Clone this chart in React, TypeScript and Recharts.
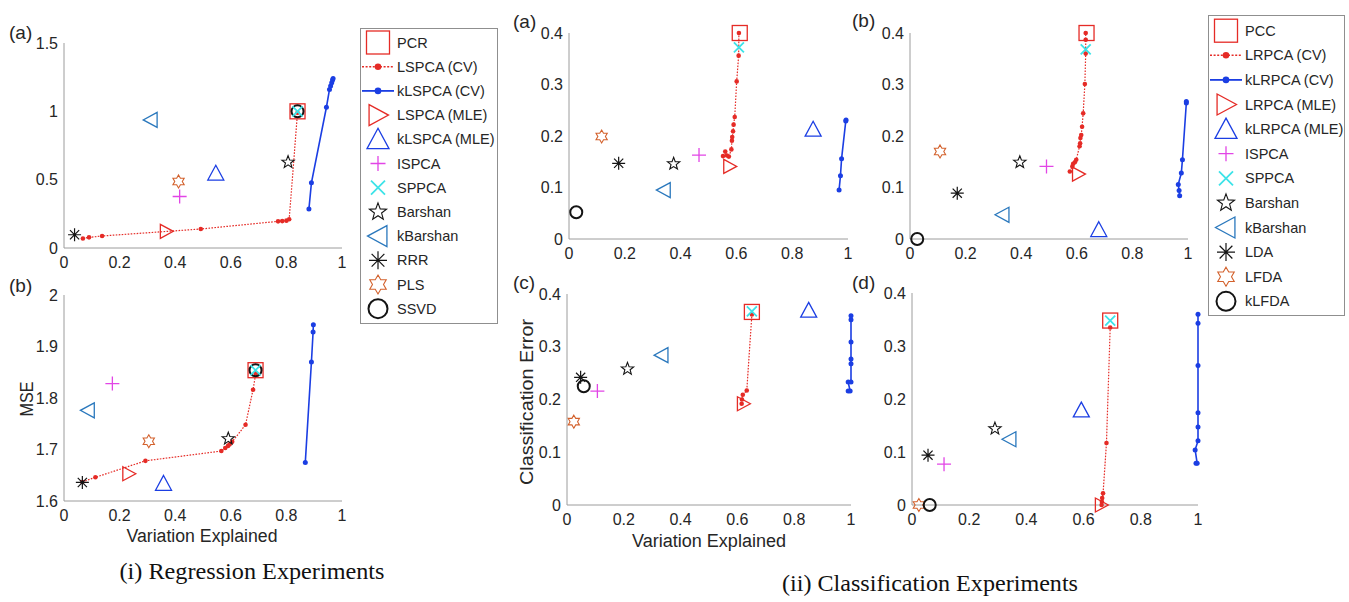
import React from "react";
import { ScatterChart, Scatter, XAxis, YAxis } from "recharts";

const RED = "#e52b26";
const BLUE = "#1b3ee3";
const MAGENTA = "#e245e6";
const CYAN = "#3de3e8";
const STEEL = "#2a78bd";
const ORANGE = "#d3612c";
const INK = "#141414";
const AXIS = "#9c9c9c";
const TEXT = "#262626";
const SANS = "'Liberation Sans', Arial, Helvetica, sans-serif";
const SERIF = "'Liberation Serif', 'Times New Roman', serif";

type P = { x: number; y: number };
type Mark = [string, number, number];

// ---- (i) Regression, panel (a)
const regA_cv: P[] = [
  { x: 0.068, y: 0.07 }, { x: 0.09, y: 0.078 }, { x: 0.137, y: 0.088 }, { x: 0.492, y: 0.139 },
  { x: 0.77, y: 0.195 }, { x: 0.785, y: 0.197 }, { x: 0.8, y: 0.2 }, { x: 0.81, y: 0.21 }, { x: 0.84, y: 0.99 },
];
const regA_kcv: P[] = [
  { x: 0.881, y: 0.285 }, { x: 0.89, y: 0.477 }, { x: 0.944, y: 1.03 }, { x: 0.955, y: 1.16 },
  { x: 0.959, y: 1.185 }, { x: 0.963, y: 1.21 }, { x: 0.966, y: 1.23 }, { x: 0.968, y: 1.24 },
];
const regA_marks: Mark[] = [
  ["sq", 0.84, 1.0], ["rtri", 0.368, 0.122], ["utri", 0.546, 0.547], ["plus", 0.416, 0.377],
  ["cross", 0.84, 1.0], ["star", 0.806, 0.628], ["ltri", 0.312, 0.937], ["ast", 0.038, 0.097],
  ["hex", 0.412, 0.487], ["circ", 0.84, 1.0],
];

// ---- (i) Regression, panel (b)
const regB_cv: P[] = [
  { x: 0.066, y: 1.637 }, { x: 0.113, y: 1.646 }, { x: 0.293, y: 1.678 }, { x: 0.566, y: 1.697 },
  { x: 0.58, y: 1.703 }, { x: 0.59, y: 1.707 }, { x: 0.596, y: 1.71 }, { x: 0.605, y: 1.715 },
  { x: 0.653, y: 1.748 }, { x: 0.68, y: 1.816 }, { x: 0.69, y: 1.848 },
];
const regB_kcv: P[] = [
  { x: 0.868, y: 1.675 }, { x: 0.89, y: 1.87 }, { x: 0.896, y: 1.928 }, { x: 0.897, y: 1.942 },
];
const regB_marks: Mark[] = [
  ["sq", 0.689, 1.854], ["rtri", 0.233, 1.653], ["utri", 0.358, 1.634], ["plus", 0.174, 1.828],
  ["cross", 0.689, 1.854], ["star", 0.591, 1.721], ["ltri", 0.086, 1.776], ["ast", 0.066, 1.636],
  ["hex", 0.305, 1.716], ["circ", 0.689, 1.854],
];

// ---- (ii) Classification, panel (a)
const clsA_cv: P[] = [
  { x: 0.552, y: 0.161 }, { x: 0.56, y: 0.17 }, { x: 0.566, y: 0.162 }, { x: 0.573, y: 0.16 },
  { x: 0.582, y: 0.174 }, { x: 0.584, y: 0.191 }, { x: 0.585, y: 0.198 }, { x: 0.588, y: 0.209 },
  { x: 0.59, y: 0.222 }, { x: 0.594, y: 0.237 }, { x: 0.601, y: 0.306 }, { x: 0.608, y: 0.356 },
  { x: 0.609, y: 0.4 },
];
const clsA_kcv: P[] = [
  { x: 0.968, y: 0.095 }, { x: 0.973, y: 0.123 }, { x: 0.977, y: 0.156 }, { x: 0.992, y: 0.229 }, { x: 0.993, y: 0.231 },
];
const clsA_marks: Mark[] = [
  ["sq", 0.612, 0.4], ["rtri", 0.576, 0.141], ["utri", 0.875, 0.213], ["plus", 0.466, 0.163],
  ["cross", 0.609, 0.372], ["star", 0.375, 0.146], ["ltri", 0.34, 0.095], ["ast", 0.178, 0.147],
  ["hex", 0.117, 0.199], ["circ", 0.026, 0.052],
];

// ---- (ii) Classification, panel (b)
const clsB_cv: P[] = [
  { x: 0.575, y: 0.131 }, { x: 0.584, y: 0.141 }, { x: 0.587, y: 0.146 }, { x: 0.593, y: 0.149 },
  { x: 0.598, y: 0.154 }, { x: 0.61, y: 0.18 }, { x: 0.612, y: 0.186 }, { x: 0.613, y: 0.196 },
  { x: 0.616, y: 0.202 }, { x: 0.619, y: 0.218 }, { x: 0.623, y: 0.244 }, { x: 0.629, y: 0.301 },
  { x: 0.632, y: 0.36 }, { x: 0.632, y: 0.387 }, { x: 0.632, y: 0.4 },
];
const clsB_kcv: P[] = [
  { x: 0.97, y: 0.084 }, { x: 0.968, y: 0.094 }, { x: 0.965, y: 0.106 }, { x: 0.976, y: 0.128 },
  { x: 0.98, y: 0.154 }, { x: 0.994, y: 0.264 }, { x: 0.994, y: 0.267 },
];
const clsB_marks: Mark[] = [
  ["sq", 0.635, 0.4], ["rtri", 0.606, 0.126], ["utri", 0.679, 0.018], ["plus", 0.491, 0.141],
  ["cross", 0.632, 0.368], ["star", 0.395, 0.149], ["ltri", 0.333, 0.047], ["ast", 0.17, 0.089],
  ["hex", 0.108, 0.17], ["circ", 0.026, 0.0],
];

// ---- (ii) Classification, panel (c)
const clsC_cv: P[] = [
  { x: 0.615, y: 0.192 }, { x: 0.616, y: 0.2 }, { x: 0.619, y: 0.209 }, { x: 0.633, y: 0.217 }, { x: 0.651, y: 0.361 },
];
const clsC_kcv: P[] = [
  { x: 0.99, y: 0.216 }, { x: 0.997, y: 0.216 }, { x: 0.99, y: 0.233 }, { x: 1.0, y: 0.233 },
  { x: 1.0, y: 0.268 }, { x: 1.0, y: 0.277 }, { x: 1.0, y: 0.309 }, { x: 1.0, y: 0.351 }, { x: 1.0, y: 0.359 },
];
const clsC_marks: Mark[] = [
  ["sq", 0.651, 0.366], ["rtri", 0.621, 0.192], ["utri", 0.851, 0.369], ["plus", 0.107, 0.216],
  ["cross", 0.651, 0.367], ["star", 0.213, 0.258], ["ltri", 0.333, 0.284], ["ast", 0.048, 0.242],
  ["hex", 0.024, 0.158], ["circ", 0.059, 0.225],
];

// ---- (ii) Classification, panel (d)
const clsD_cv: P[] = [
  { x: 0.663, y: 0.0 }, { x: 0.664, y: 0.006 }, { x: 0.665, y: 0.013 }, { x: 0.668, y: 0.022 },
  { x: 0.68, y: 0.117 }, { x: 0.693, y: 0.335 },
];
const clsD_kcv: P[] = [
  { x: 0.993, y: 0.079 }, { x: 0.997, y: 0.079 }, { x: 0.99, y: 0.104 }, { x: 1.0, y: 0.121 },
  { x: 1.0, y: 0.147 }, { x: 1.0, y: 0.174 }, { x: 1.0, y: 0.263 }, { x: 1.0, y: 0.343 }, { x: 1.0, y: 0.36 },
];
const clsD_marks: Mark[] = [
  ["sq", 0.693, 0.348], ["rtri", 0.662, 0.0], ["utri", 0.592, 0.179], ["plus", 0.112, 0.077],
  ["cross", 0.693, 0.348], ["star", 0.29, 0.144], ["ltri", 0.341, 0.124], ["ast", 0.056, 0.094],
  ["hex", 0.024, 0.0], ["circ", 0.062, 0.0],
];

const xTicks = [0, 0.2, 0.4, 0.6, 0.8, 1];
const regATicks = [0, 0.5, 1, 1.5];
const regBTicks = [1.6, 1.7, 1.8, 1.9, 2];
const clsTicks = [0, 0.1, 0.2, 0.3, 0.4];

const regLabels = ["PCR", "LSPCA (CV)", "kLSPCA (CV)", "LSPCA (MLE)", "kLSPCA (MLE)", "ISPCA", "SPPCA", "Barshan", "kBarshan", "RRR", "PLS", "SSVD"];
const clsLabels = ["PCC", "LRPCA (CV)", "kLRPCA (CV)", "LRPCA (MLE)", "kLRPCA (MLE)", "ISPCA", "SPPCA", "Barshan", "kBarshan", "LDA", "LFDA", "kLFDA"];
const legendKeys = ["sq", "cv", "kcv", "rtri", "utri", "plus", "cross", "star", "ltri", "ast", "hex", "circ"];

// draw order for single markers (cyan cross on top, as in the figure)
const markOrder = ["sq", "rtri", "utri", "plus", "star", "ltri", "ast", "hex", "circ", "cross"];

const plotSize: Record<string, number> = {
  sq: 7.5, rtri: 7, utri: 8, plus: 7, cross: 5, star: 6.5, ltri: 7.5, ast: 6.5, hex: 6.5, circ: 6,
};
const legendSize: Record<string, number> = {
  sq: 11.5, rtri: 10.5, utri: 11, plus: 7.5, cross: 7, star: 9, ltri: 10.5, ast: 9, hex: 9.5, circ: 9.5,
};

function starPts(cx: number, cy: number, n: number, ro: number, ri: number) {
  const pts: string[] = [];
  for (let i = 0; i < 2 * n; i++) {
    const r = i % 2 === 0 ? ro : ri;
    const a = -Math.PI / 2 + (i * Math.PI) / n;
    pts.push(`${cx + r * Math.cos(a)},${cy + r * Math.sin(a)}`);
  }
  return pts.join(" ");
}

function marker(kind: string, cx: number, cy: number, h: number) {
  switch (kind) {
    case "sq":
      return <rect x={cx - h} y={cy - h} width={2 * h} height={2 * h} fill="none" stroke={RED} strokeWidth={1.3} />;
    case "rtri":
      return <polygon points={`${cx - h * 0.85},${cy - h} ${cx + h},${cy} ${cx - h * 0.85},${cy + h}`} fill="none" stroke={RED} strokeWidth={1.3} />;
    case "ltri":
      return <polygon points={`${cx + h * 0.85},${cy - h} ${cx - h},${cy} ${cx + h * 0.85},${cy + h}`} fill="none" stroke={STEEL} strokeWidth={1.3} />;
    case "utri":
      return <polygon points={`${cx},${cy - h} ${cx + h},${cy + h * 0.85} ${cx - h},${cy + h * 0.85}`} fill="none" stroke={BLUE} strokeWidth={1.3} />;
    case "plus":
      return <path d={`M${cx - h},${cy}H${cx + h}M${cx},${cy - h}V${cy + h}`} stroke={MAGENTA} strokeWidth={1.3} />;
    case "cross":
      return <path d={`M${cx - h},${cy - h}L${cx + h},${cy + h}M${cx - h},${cy + h}L${cx + h},${cy - h}`} stroke={CYAN} strokeWidth={1.8} />;
    case "star":
      return <polygon points={starPts(cx, cy, 5, h, h * 0.42)} fill="none" stroke={INK} strokeWidth={1.1} />;
    case "hex":
      return <polygon points={starPts(cx, cy, 6, h, h * 0.58)} fill="none" stroke={ORANGE} strokeWidth={1.1} />;
    case "ast": {
      const d = h * 0.7071;
      return (
        <path
          d={`M${cx - h},${cy}H${cx + h}M${cx},${cy - h}V${cy + h}M${cx - d},${cy - d}L${cx + d},${cy + d}M${cx - d},${cy + d}L${cx + d},${cy - d}`}
          stroke={INK}
          strokeWidth={1.2}
        />
      );
    }
    case "circ":
      return <circle cx={cx} cy={cy} r={h} fill="none" stroke={INK} strokeWidth={2} />;
    default:
      return <g />;
  }
}

type PanelProps = {
  box: [number, number, number, number];
  yDomain: [number, number];
  yTicks: number[];
  cv: P[];
  kcv: P[];
  marks: Mark[];
};

function Panel({ box, yDomain, yTicks, cv, kcv, marks }: PanelProps) {
  const [x0, yTop, x1, yBot] = box;
  const W = x1 - x0 + 60;
  const H = yBot - yTop + 40;
  const tick = { fill: TEXT, fontSize: 16, fontFamily: SANS };
  return (
    <div style={{ position: "absolute", left: x0 - 50, top: yTop - 10 }}>
      <ScatterChart width={W} height={H} margin={{ top: 10, right: 10, bottom: 0, left: 0 }}>
        <XAxis type="number" dataKey="x" domain={[0, 1]} ticks={xTicks} interval={0} height={30}
          tickLine={false} tickSize={0} tickMargin={9} stroke={AXIS} tick={tick} />
        <YAxis type="number" dataKey="y" domain={yDomain} ticks={yTicks} interval={0} width={50}
          tickLine={false} tickSize={0} tickMargin={6} stroke={AXIS} tick={tick} />
        <Scatter data={cv} isAnimationActive={false}
          line={{ stroke: RED, strokeWidth: 1.2, strokeDasharray: "1.6 1.4" }}
          shape={(p: any) => <circle cx={p.cx} cy={p.cy} r={2.3} fill={RED} />} />
        <Scatter data={kcv} isAnimationActive={false}
          line={{ stroke: BLUE, strokeWidth: 1.6 }}
          shape={(p: any) => <circle cx={p.cx} cy={p.cy} r={2.5} fill={BLUE} />} />
        {markOrder.map((k) => (
          <Scatter key={k} isAnimationActive={false}
            data={marks.filter((m) => m[0] === k).map((m) => ({ x: m[1], y: m[2] }))}
            shape={(p: any) => marker(k, p.cx, p.cy, plotSize[k])} />
        ))}
      </ScatterChart>
    </div>
  );
}

function LegendBox({ x, y, w, h, first, step, labels }: { x: number; y: number; w: number; h: number; first: number; step: number; labels: string[] }) {
  return (
    <g transform={`translate(${x},${y})`}>
      <rect x={0.5} y={0.5} width={w} height={h} fill="#fff" stroke="#8f8f8f" strokeWidth={1} />
      {legendKeys.map((k, i) => {
        const cy = first + i * step;
        const mx = 18;
        let sym;
        if (k === "cv") {
          sym = (
            <g>
              <line x1={2} x2={34} y1={cy} y2={cy} stroke={RED} strokeWidth={1.4} strokeDasharray="2 1.6" />
              <circle cx={mx} cy={cy} r={3.3} fill={RED} />
            </g>
          );
        } else if (k === "kcv") {
          sym = (
            <g>
              <line x1={2} x2={34} y1={cy} y2={cy} stroke={BLUE} strokeWidth={1.8} />
              <circle cx={mx} cy={cy} r={3.3} fill={BLUE} />
            </g>
          );
        } else {
          sym = marker(k, mx, cy, legendSize[k]);
        }
        return (
          <g key={k}>
            {sym}
            <text x={37} y={cy + 5} fontSize={14.5} fontFamily={SANS} fill={TEXT}>{labels[i]}</text>
          </g>
        );
      })}
    </g>
  );
}

export default function App() {
  return (
    <div style={{ position: "absolute", left: 0, top: 0, width: 1349, height: 602, background: "#fff", overflow: "hidden" }}>
      <Panel box={[64, 43, 342, 248]} yDomain={[0, 1.5]} yTicks={regATicks} cv={regA_cv} kcv={regA_kcv} marks={regA_marks} />
      <Panel box={[64, 295, 342, 501]} yDomain={[1.6, 2]} yTicks={regBTicks} cv={regB_cv} kcv={regB_kcv} marks={regB_marks} />
      <Panel box={[569, 33, 848, 239]} yDomain={[0, 0.4]} yTicks={clsTicks} cv={clsA_cv} kcv={clsA_kcv} marks={clsA_marks} />
      <Panel box={[910, 33, 1188, 239]} yDomain={[0, 0.4]} yTicks={clsTicks} cv={clsB_cv} kcv={clsB_kcv} marks={clsB_marks} />
      <Panel box={[567, 294, 851, 505]} yDomain={[0, 0.4]} yTicks={clsTicks} cv={clsC_cv} kcv={clsC_kcv} marks={clsC_marks} />
      <Panel box={[912, 293, 1198, 505]} yDomain={[0, 0.4]} yTicks={clsTicks} cv={clsD_cv} kcv={clsD_kcv} marks={clsD_marks} />

      <svg width={1349} height={602} style={{ position: "absolute", left: 0, top: 0, pointerEvents: "none" }}>
        <g fontFamily={SANS} fill={TEXT} fontSize={19}>
          <text x={9} y={39}>(a)</text>
          <text x={9} y={292}>(b)</text>
          <text x={513} y={28}>(a)</text>
          <text x={513} y={289}>(c)</text>
          <text x={852} y={27}>(b)</text>
          <text x={852} y={289}>(d)</text>
        </g>
        <g fontFamily={SANS} fill={TEXT} textAnchor="middle">
          <text x={202} y={542} fontSize={18} textLength={151} lengthAdjust="spacingAndGlyphs">Variation Explained</text>
          <text x={709} y={547} fontSize={18} textLength={154} lengthAdjust="spacingAndGlyphs">Variation Explained</text>
          <text transform="translate(33,399) rotate(-90)" fontSize={18} textLength={35} lengthAdjust="spacingAndGlyphs">MSE</text>
          <text transform="translate(533,402) rotate(-90)" fontSize={19} textLength={166} lengthAdjust="spacingAndGlyphs">Classification Error</text>
        </g>
        <g fontFamily={SERIF} fill="#111" fontSize={24} textAnchor="middle">
          <text x={252} y={579} textLength={265} lengthAdjust="spacingAndGlyphs">(i) Regression Experiments</text>
          <text x={930} y={591} textLength={296} lengthAdjust="spacingAndGlyphs">(ii) Classification Experiments</text>
        </g>
        <LegendBox x={360} y={28} w={137} h={295} first={14.5} step={24.2} labels={regLabels} />
        <LegendBox x={1208} y={15} w={136} h={300} first={15.7} step={24.6} labels={clsLabels} />
      </svg>
    </div>
  );
}
